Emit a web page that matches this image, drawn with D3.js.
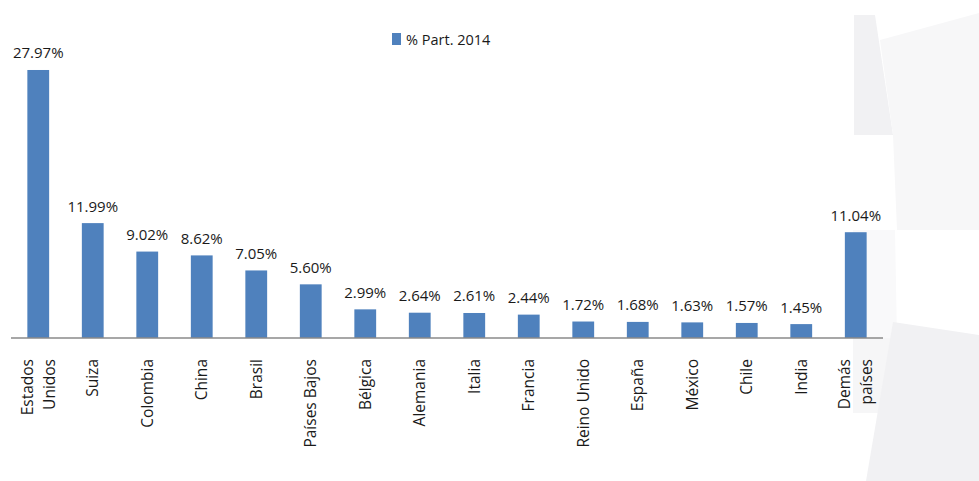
<!DOCTYPE html>
<html><head><meta charset="utf-8">
<script src="https://cdn.jsdelivr.net/npm/d3@7"></script>
<style>html,body{margin:0;padding:0;background:#fff;}svg{display:block;}</style>
</head><body>
<svg id="chart" width="979" height="481"></svg>
<script>
const categories = [["Estados","Unidos"],["Suiza"],["Colombia"],["China"],["Brasil"],["Países Bajos"],["Bélgica"],["Alemania"],["Italia"],["Francia"],["Reino Unido"],["España"],["México"],["Chile"],["India"],["Demás","países"]];
const values = [27.97, 11.99, 9.02, 8.62, 7.05, 5.60, 2.99, 2.64, 2.61, 2.44, 1.72, 1.68, 1.63, 1.57, 1.45, 11.04];
const valueLabels = ["27.97%","11.99%","9.02%","8.62%","7.05%","5.60%","2.99%","2.64%","2.61%","2.44%","1.72%","1.68%","1.63%","1.57%","1.45%","11.04%"];
const seriesName = "% Part. 2014";

const svg = d3.select("#chart");
const font = "'Open Sans', 'Liberation Sans', sans-serif";

// decorative background shapes
const bg = svg.append("g");
const shapes = [
  {p:[[854,15],[875,15],[893,135],[854,135]], f:"#f1f1f3"},
  {p:[[880,40],[979,13],[979,230],[897,230],[893,135]], f:"#f7f7f8"},
  {p:[[853,230],[895,230],[897,338],[853,338]], f:"#f9f9fa"},
  {p:[[853,338],[897,338],[880,413],[853,413]], f:"#f6f6f7"},
  {p:[[893,322],[979,335],[979,481],[866,481]], f:"#f1f1f3"}
];
shapes.forEach(s => bg.append("polygon").attr("points", s.p.map(d=>d.join(",")).join(" ")).attr("fill", s.f));

const x = d3.scaleBand().domain(d3.range(values.length)).range([11, 883]).paddingInner(0.6).paddingOuter(0.3);
const y = d3.scaleLinear().domain([0, 30]).range([338, 338 - 30*9.582]);

svg.append("g").selectAll("rect").data(values).join("rect")
  .attr("x", (d,i)=>x(i)).attr("width", x.bandwidth())
  .attr("y", d=>y(d)).attr("height", d=>y(0)-y(d))
  .attr("fill", "#4f81bd");

svg.append("g").selectAll("text").data(values).join("text")
  .attr("x", (d,i)=>x(i)+x.bandwidth()/2).attr("y", d=>y(d)-11.5)
  .attr("text-anchor","middle").attr("font-family", font).attr("font-size", 15)
  .attr("fill","#1a1a1a").text((d,i)=>valueLabels[i]);

// axis
const axis = svg.append("g").attr("transform", `translate(0,${y(0)})`)
  .call(d3.axisBottom(x).tickSize(0).tickFormat(""));
axis.select(".domain").attr("stroke","#8a8a8a").attr("stroke-width",1.5).attr("d","M11,0H883");

const lab = svg.append("g");
categories.forEach((c,i) => {
  const cx = x(i) + x.bandwidth()/2;
  const n = c.length;
  c.forEach((line,j) => {
    const off = n === 1 ? 0 : (j === 0 ? -11 : 11);
    lab.append("text")
      .attr("transform", `translate(${cx+off},359) rotate(-90)`)
      .attr("text-anchor","end").attr("dy","0.36em")
      .attr("font-family", font).attr("font-size", 15.5)
      .attr("fill","#1a1a1a").text(line);
  });
});

// legend
const lg = svg.append("g");
lg.append("rect").attr("x",392).attr("y",33).attr("width",9).attr("height",12).attr("fill","#4f81bd");
lg.append("text").attr("x",406).attr("y",45).attr("font-family",font).attr("font-size",14.5)
  .attr("fill","#1a1a1a").text(seriesName);
</script>
</body></html>
